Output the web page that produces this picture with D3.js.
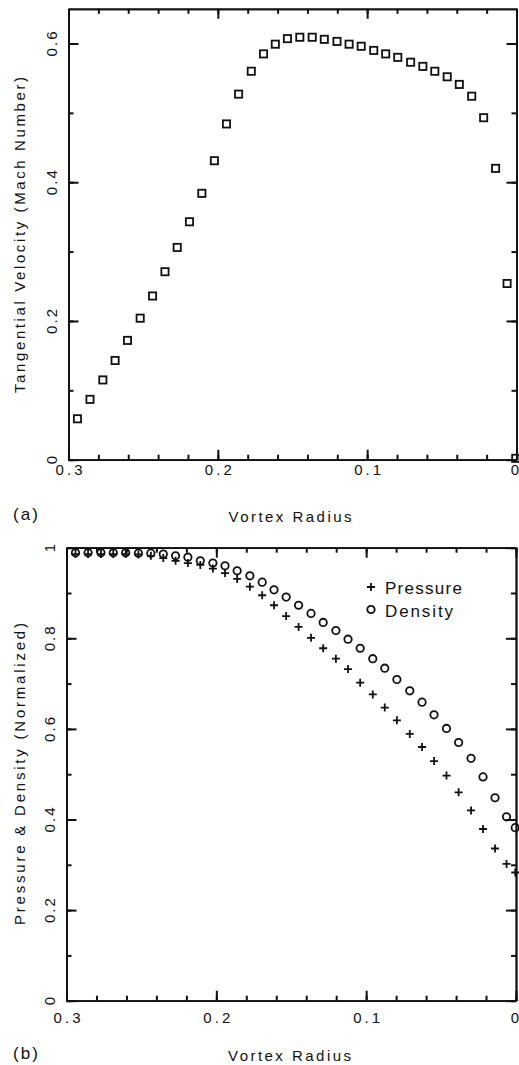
<!DOCTYPE html>
<html>
<head>
<meta charset="utf-8">
<script src="https://cdn.jsdelivr.net/npm/d3@7"></script>
<style>
  html, body { margin: 0; padding: 0; background: #fff; }
  svg { display: block; }
  text { font-family: "Liberation Sans", Arial, sans-serif; fill: #111; }
</style>
</head>
<body>
<svg id="fig" width="519" height="1065"></svg>
<script>
// Sample radii shared by both panels (distance from the vortex core)
const radius = [
  0.2940, 0.2856, 0.2770, 0.2688, 0.2605, 0.2520, 0.2437, 0.2354, 0.2272, 0.2190,
  0.2107, 0.2023, 0.1942, 0.1861, 0.1776, 0.1694, 0.1615, 0.1534, 0.1451, 0.1368,
  0.1287, 0.1202, 0.1121, 0.1040, 0.0956, 0.0876, 0.0795, 0.0709, 0.0627, 0.0547,
  0.0464, 0.0383, 0.0300, 0.0220, 0.0140, 0.0063, 0.0005
];

// (a) tangential velocity, Mach number
const tangentialVelocity = [
  0.059, 0.087, 0.115, 0.143, 0.172, 0.204, 0.236, 0.271, 0.306, 0.343,
  0.384, 0.431, 0.484, 0.527, 0.560, 0.585, 0.599, 0.607, 0.609, 0.609,
  0.606, 0.603, 0.599, 0.596, 0.590, 0.585, 0.580, 0.573, 0.567, 0.560,
  0.552, 0.541, 0.524, 0.493, 0.420, 0.254, 0.002
];

// (b) normalized pressure
const pressure = [
  0.986, 0.986, 0.986, 0.986, 0.986, 0.985, 0.982, 0.977, 0.971, 0.966,
  0.962, 0.954, 0.944, 0.931, 0.914, 0.895, 0.873, 0.849, 0.825, 0.801,
  0.778, 0.755, 0.732, 0.702, 0.676, 0.647, 0.619, 0.589, 0.560, 0.529,
  0.497, 0.460, 0.420, 0.379, 0.336, 0.302, 0.283
];

// (b) normalized density
const density = [
  0.989, 0.989, 0.989, 0.989, 0.989, 0.988, 0.988, 0.986, 0.982, 0.979,
  0.971, 0.966, 0.960, 0.949, 0.938, 0.924, 0.907, 0.891, 0.873, 0.855,
  0.835, 0.817, 0.798, 0.778, 0.755, 0.734, 0.709, 0.684, 0.659, 0.631,
  0.601, 0.570, 0.535, 0.494, 0.448, 0.406, 0.382
];

// Axis ticks and labels
const radiusTicks = [0.3, 0.2, 0.1, 0];
const radiusTickLabels = ["0.3", "0.2", "0.1", "0"];
const velocityTicks = [0, 0.2, 0.4, 0.6];
const velocityTickLabels = ["0", "0.2", "0.4", "0.6"];
const normTicks = [0, 0.2, 0.4, 0.6, 0.8, 1];
const normTickLabels = ["0", "0.2", "0.4", "0.6", "0.8", "1"];

const svg = d3.select("#fig");
const INK = "#111";
const STROKE = 1.8;
const TICK_STROKE = 2;
const MAJOR = 10, MINOR = 5;

function drawPanel(opt) {
  const g = svg.append("g");
  const x = d3.scaleLinear().domain([0.3, 0]).range(opt.xRange);
  const y = d3.scaleLinear().domain(opt.yDomain).range(opt.yRange);
  const [x0, x1] = opt.xRange;
  const [yb, yt] = opt.yRange;

  const xMinor = d3.range(0, 0.3001, 0.02).map(v => +v.toFixed(2));
  const yMinor = d3.range(0, opt.yDomain[1] + 1e-9, 0.1).map(v => +v.toFixed(2));

  // inward-pointing ticks on one side of the frame
  function side(axisFn, horizontal, pos, values, size, fmt) {
    return g.append("g")
      .attr("transform", horizontal ? `translate(0,${pos})` : `translate(${pos},0)`)
      .call(axisFn(horizontal ? x : y)
        .tickValues(values).tickSizeInner(-size).tickSizeOuter(0).tickFormat(fmt || ""))
      .call(sel => {
        sel.select(".domain").attr("stroke", INK).attr("stroke-width", STROKE);
        sel.selectAll(".tick line").attr("stroke", INK).attr("stroke-width", TICK_STROKE);
      });
  }

  // bottom
  side(d3.axisBottom, true, yb, xMinor, MINOR);
  const bx = side(d3.axisBottom, true, yb, radiusTicks, MAJOR, (d, i) => radiusTickLabels[i]);
  bx.selectAll("text")
    .attr("y", opt.xLabelOffset).attr("dy", 0)
    .attr("font-size", 15).attr("fill", INK)
    .each(function (d, i) {
      const s = radiusTickLabels[i];
      const t = d3.select(this);
      if (s.length > 1) t.attr("textLength", 27).attr("lengthAdjust", "spacing");
      else t.attr("text-anchor", "end").attr("x", 518.5 - x(d));
    });

  // top
  side(d3.axisTop, true, yt, xMinor, MINOR);
  side(d3.axisTop, true, yt, radiusTicks, MAJOR);

  // left, with rotated labels
  side(d3.axisLeft, false, x0, yMinor, MINOR);
  const ly = side(d3.axisLeft, false, x0, opt.yTicks, MAJOR, (d, i) => opt.yTickLabels[i]);
  ly.selectAll("text")
    .attr("x", 0).attr("dy", 0)
    .attr("text-anchor", "middle")
    .attr("transform", `translate(${opt.yLabelOffset},0) rotate(-90)`)
    .attr("font-size", 15).attr("fill", INK)
    .each(function (d, i) {
      if (opt.yTickLabels[i].length > 1)
        d3.select(this).attr("textLength", 25).attr("lengthAdjust", "spacing");
    });

  // right
  side(d3.axisRight, false, x1, yMinor, MINOR);
  side(d3.axisRight, false, x1, opt.yTicks, MAJOR);

  // axis titles and panel tag
  g.append("text")
    .attr("x", opt.xTitle[0]).attr("y", opt.xTitle[1])
    .attr("text-anchor", "middle").attr("font-size", 15)
    .attr("textLength", 123).attr("lengthAdjust", "spacing")
    .text("Vortex Radius");
  g.append("text")
    .attr("transform", `translate(${opt.yTitle[0]},${opt.yTitle[1]}) rotate(-90)`)
    .attr("text-anchor", "middle").attr("font-size", 15)
    .attr("textLength", opt.yTitleLength).attr("lengthAdjust", "spacing")
    .text(opt.yTitleText);
  g.append("text")
    .attr("x", 13).attr("y", opt.tagY)
    .attr("font-size", 17)
    .attr("textLength", 25).attr("lengthAdjust", "spacing")
    .text(opt.tag);

  return { g, x, y };
}

// Panel (a): tangential velocity
const a = drawPanel({
  xRange: [68.5, 516.5], yRange: [459.7, 8.8], yDomain: [0, 0.65],
  yTicks: velocityTicks, yTickLabels: velocityTickLabels,
  xLabelOffset: 15.6, yLabelOffset: -11.5,
  xTitle: [290, 522], yTitle: [25, 235], yTitleLength: 316,
  yTitleText: "Tangential Velocity (Mach Number)",
  tag: "(a)", tagY: 520
});

a.g.append("g").selectAll("rect")
  .data(radius.map((r, i) => [r, tangentialVelocity[i]]))
  .join("rect")
  .attr("x", d => a.x(d[0]) - 3.6).attr("y", d => a.y(d[1]) - 3.6)
  .attr("width", 7.2).attr("height", 7.2)
  .attr("fill", "none").attr("stroke", INK).attr("stroke-width", STROKE);

// Panel (b): pressure and density
const b = drawPanel({
  xRange: [66.5, 516], yRange: [1000.7, 547.7], yDomain: [0, 1],
  yTicks: normTicks, yTickLabels: normTickLabels,
  xLabelOffset: 22.4, yLabelOffset: -11.5,
  xTitle: [289.5, 1061], yTitle: [25, 774], yTitleLength: 302,
  yTitleText: "Pressure & Density (Normalized)",
  tag: "(b)", tagY: 1059
});

const crossPath = "M-4,0H4M0,-4V4";

b.g.append("g").selectAll("path")
  .data(radius.map((r, i) => [r, pressure[i]]))
  .join("path")
  .attr("d", crossPath)
  .attr("transform", d => `translate(${b.x(d[0])},${b.y(d[1])})`)
  .attr("fill", "none").attr("stroke", INK).attr("stroke-width", STROKE);

b.g.append("g").selectAll("circle")
  .data(radius.map((r, i) => [r, density[i]]))
  .join("circle")
  .attr("cx", d => b.x(d[0])).attr("cy", d => b.y(d[1]))
  .attr("r", 3.7)
  .attr("fill", "none").attr("stroke", INK).attr("stroke-width", STROKE);

// legend
const legend = b.g.append("g").attr("transform", "translate(371,587)");
legend.append("path").attr("d", crossPath)
  .attr("fill", "none").attr("stroke", INK).attr("stroke-width", STROKE);
legend.append("text").attr("x", 14).attr("y", 6.5)
  .attr("font-size", 17).attr("textLength", 77).attr("lengthAdjust", "spacing")
  .text("Pressure");
legend.append("circle").attr("cx", 0).attr("cy", 22.5).attr("r", 3.7)
  .attr("fill", "none").attr("stroke", INK).attr("stroke-width", STROKE);
legend.append("text").attr("x", 14).attr("y", 30)
  .attr("font-size", 17).attr("textLength", 68).attr("lengthAdjust", "spacing")
  .text("Density");
</script>
</body>
</html>
